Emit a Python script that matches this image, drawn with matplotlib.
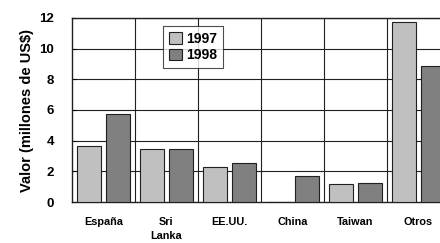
import matplotlib
matplotlib.use("Agg")
import matplotlib.pyplot as plt
import numpy as np

categories = ["España", "Sri\nLanka", "EE.UU.", "China", "Taiwan", "Otros"]
v1997 = [3.65, 3.46, 2.26, 0.0, 1.15, 11.76]
v1998 = [5.72, 3.46, 2.56, 1.70, 1.26, 8.87]
yticks = [0, 2, 4, 6, 8, 10, 12]

plt.rcParams['font.family'] = ['Liberation Sans Narrow', 'Liberation Sans', 'DejaVu Sans']
plt.rcParams['font.weight'] = 'bold'

fig = plt.figure(figsize=(4.4, 2.43), dpi=100)
ax = fig.add_axes([72/440, 1 - 202/243, (450-72)/440, (202-18)/243])

x = np.arange(len(categories))
w = 0.38
off = 0.23
ax.bar(x - off, v1997, w, color="#c0c0c0", edgecolor="#202020", linewidth=0.8, label="1997", zorder=3)
ax.bar(x + off, v1998, w, color="#808080", edgecolor="#202020", linewidth=0.8, label="1998", zorder=3)

ax.set_xlim(-0.5, len(categories) - 0.5)
ax.set_ylim(0, 12)
ax.set_yticks(yticks)
ax.set_yticklabels([str(t) for t in yticks], fontsize=9.5, fontweight='bold')
ax.set_xticks(x)
ax.set_xticklabels(categories, fontsize=7.8, fontweight='bold', linespacing=1.45, va='top')
ax.tick_params(axis='x', length=0, pad=11)
ax.tick_params(axis='y', length=3, direction='in', width=0.8, pad=13)

for yv in yticks[1:]:
    ax.axhline(yv, color="#202020", linewidth=0.8, zorder=1)
for b in np.arange(0.5, len(categories) - 0.5, 1):
    ax.axvline(b, color="#202020", linewidth=0.8, zorder=1)

for s in ['left', 'top', 'bottom']:
    ax.spines[s].set_linewidth(1.0)
    ax.spines[s].set_color("#202020")
ax.spines['right'].set_visible(False)

ax.set_ylabel("Valor (millones de US$)", fontsize=10.5, fontweight='bold', labelpad=4)

leg = ax.legend(loc='upper left', bbox_to_anchor=((163-72)/378, 1 - (26-18)/184),
                fontsize=10, frameon=True, fancybox=False, edgecolor="#202020",
                handlelength=0.95, handleheight=0.9, handletextpad=0.35,
                borderpad=0.4, labelspacing=0.2, borderaxespad=0)
leg.get_frame().set_linewidth(0.8)
for t in leg.get_texts():
    t.set_fontweight('bold')
leg.set_zorder(5)

fig.savefig("out.png", dpi=100)
